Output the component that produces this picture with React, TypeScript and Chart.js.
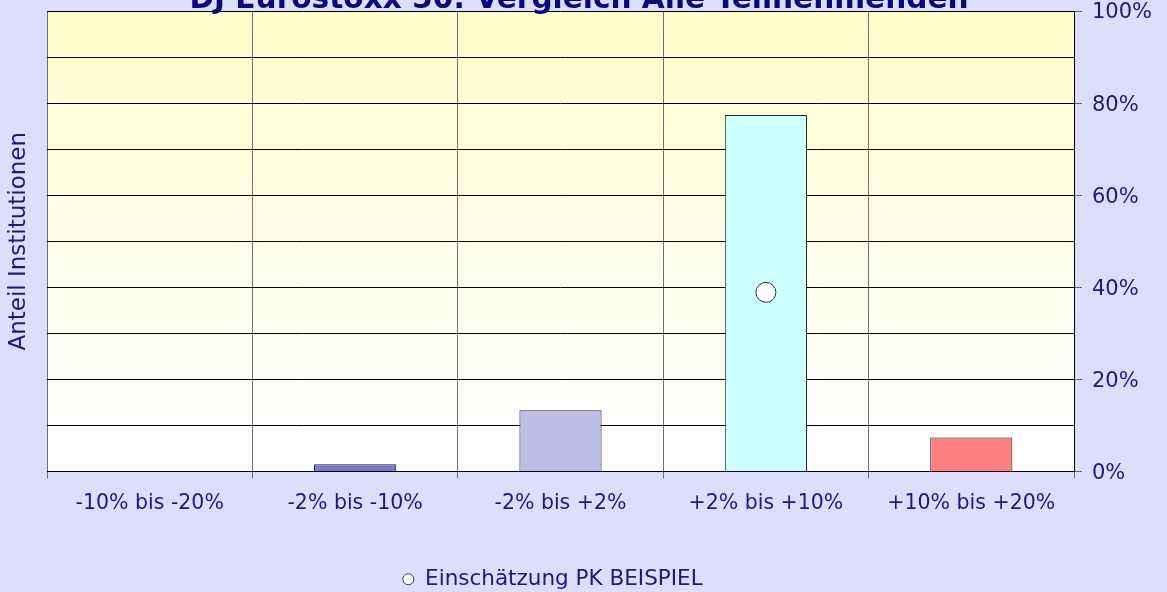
import React, { useEffect, useRef } from "react";
import { Chart, registerables } from "chart.js";

Chart.register(...registerables);

const categories = ["-10% bis -20%", "-2% bis -10%", "-2% bis +2%", "+2% bis +10%", "+10% bis +20%"];
const shareValues = [0, 1.6, 13.3, 77.4, 7.4];
const pkValues = [null, null, null, 38.9, null];
const barColors = ["#7878CC", "#7878CC", "#BDBDE6", "#CCFFFF", "#FF8080"];
const titleText = "DJ Eurostoxx 50: Vergleich Alle Teilnehmenden";
const yTitle = "Anteil Institutionen";
const legendLabel = "Einschätzung PK BEISPIEL";

const NAVY = "#1A1A80";
const FONT = "'DejaVu Sans', Verdana, sans-serif";

const bgPlugin = {
  id: "bgPlugin",
  afterLayout(chart: any) {
    if (chart.legend) {
      chart.legend.left -= 31;
      chart.legend.right -= 31;
      chart.legend.top += 8;
      chart.legend.bottom += 8;
    }
  },
  beforeDraw(chart: any) {
    const { ctx, width, height, chartArea } = chart;
    ctx.save();
    ctx.fillStyle = "#DDDDFF";
    ctx.fillRect(0, 0, width, height);
    const g = ctx.createLinearGradient(0, chartArea.top, 0, chartArea.bottom);
    g.addColorStop(0, "#FFFFCC");
    g.addColorStop(0.9, "#FFFFFF");
    g.addColorStop(1, "#FFFFFF");
    ctx.fillStyle = g;
    ctx.fillRect(chartArea.left, chartArea.top, chartArea.right - chartArea.left, chartArea.bottom - chartArea.top);
    ctx.restore();
  },
  afterDraw(chart: any) {
    const { ctx } = chart;
    ctx.save();
    ctx.font = `bold 29.6px ${FONT}`;
    ctx.fillStyle = "#0A0A78";
    ctx.textAlign = "center";
    ctx.textBaseline = "alphabetic";
    ctx.fillText(titleText, 579, 8);
    ctx.restore();
  },
};

const zeroPadV = (s: any) => { s.paddingTop = 0; s.paddingBottom = 0; };

export default function App() {
  const ref = useRef<HTMLCanvasElement>(null);
  useEffect(() => {
    if (!ref.current) return;
    const chart = new Chart(ref.current, {
      type: "bar",
      data: {
        labels: categories,
        datasets: [
          {
            type: "bar",
            label: "Anteil",
            data: shareValues,
            backgroundColor: barColors,
            borderColor: "#222222",
            borderWidth: 1,
            barPercentage: 0.4,
            categoryPercentage: 1,
            yAxisID: "y",
            order: 2,
          },
          {
            type: "line",
            label: legendLabel,
            data: pkValues as any,
            showLine: false,
            pointStyle: "circle",
            pointRadius: 10,
            pointBackgroundColor: "#FFFFFF",
            pointBorderColor: "#333333",
            pointBorderWidth: 1,
            backgroundColor: "#FFFFFF",
            borderColor: "#333333",
            borderWidth: 1,
            yAxisID: "y",
            order: 1,
          },
        ],
      },
      options: {
        responsive: false,
        animation: false,
        layout: { padding: { top: 11, bottom: 0, left: 0, right: 0 } },
        plugins: {
          title: { display: false },
          tooltip: { enabled: false },
          legend: {
            position: "bottom",
            labels: {
              filter: (item: any) => item.datasetIndex === 1,
              usePointStyle: true,
              boxWidth: 12,
              boxHeight: 7.8,
              padding: 4,
              color: NAVY,
              font: { family: FONT, size: 21.5 },
            },
          },
        },
        scales: {
          x: {
            grid: {
              offset: true,
              color: "#707070",
              lineWidth: 1,
              tickLength: 7,
              drawTicks: true,
            },
            border: { color: "#000000" },
            ticks: { color: NAVY, font: { family: FONT, size: 20.5 }, padding: 13, maxRotation: 0 },
            afterFit: (s: any) => { s.height = 85; s.paddingLeft = 0; s.paddingRight = 0; },
          },
          y: {
            position: "right",
            min: 0,
            max: 100,
            grid: {
              color: "#000000",
              lineWidth: 1,
              tickLength: 8,
              tickColor: (c: any) => (c.tick && c.tick.value % 20 === 0 ? "#666666" : "rgba(0,0,0,0)"),
            },
            border: { color: "#000000" },
            ticks: {
              stepSize: 10,
              padding: 10,
              labelOffset: 2,
              color: NAVY,
              font: { family: FONT, size: 21 },
              callback: (v: any) => (Number(v) % 20 === 0 ? `${v}%` : ""),
            },
            afterFit: (s: any) => { s.width = 93; zeroPadV(s); },
          },
          yL: {
            position: "left",
            min: 0,
            max: 100,
            grid: { display: false, drawTicks: false },
            border: { display: false },
            ticks: { display: false },
            title: {
              display: true,
              text: yTitle,
              color: NAVY,
              font: { family: FONT, size: 23 },
              padding: { top: 5, bottom: 0 },
            },
            afterFit: (s: any) => { s.width = 47; zeroPadV(s); },
          },
        },
      } as any,
      plugins: [bgPlugin],
    });
    return () => chart.destroy();
  }, []);
  return (
    <div style={{ position: "absolute", left: 0, top: 0, width: 1167, height: 592 }}>
      <canvas ref={ref} width={1167} height={592} style={{ display: "block" }} />
    </div>
  );
}
